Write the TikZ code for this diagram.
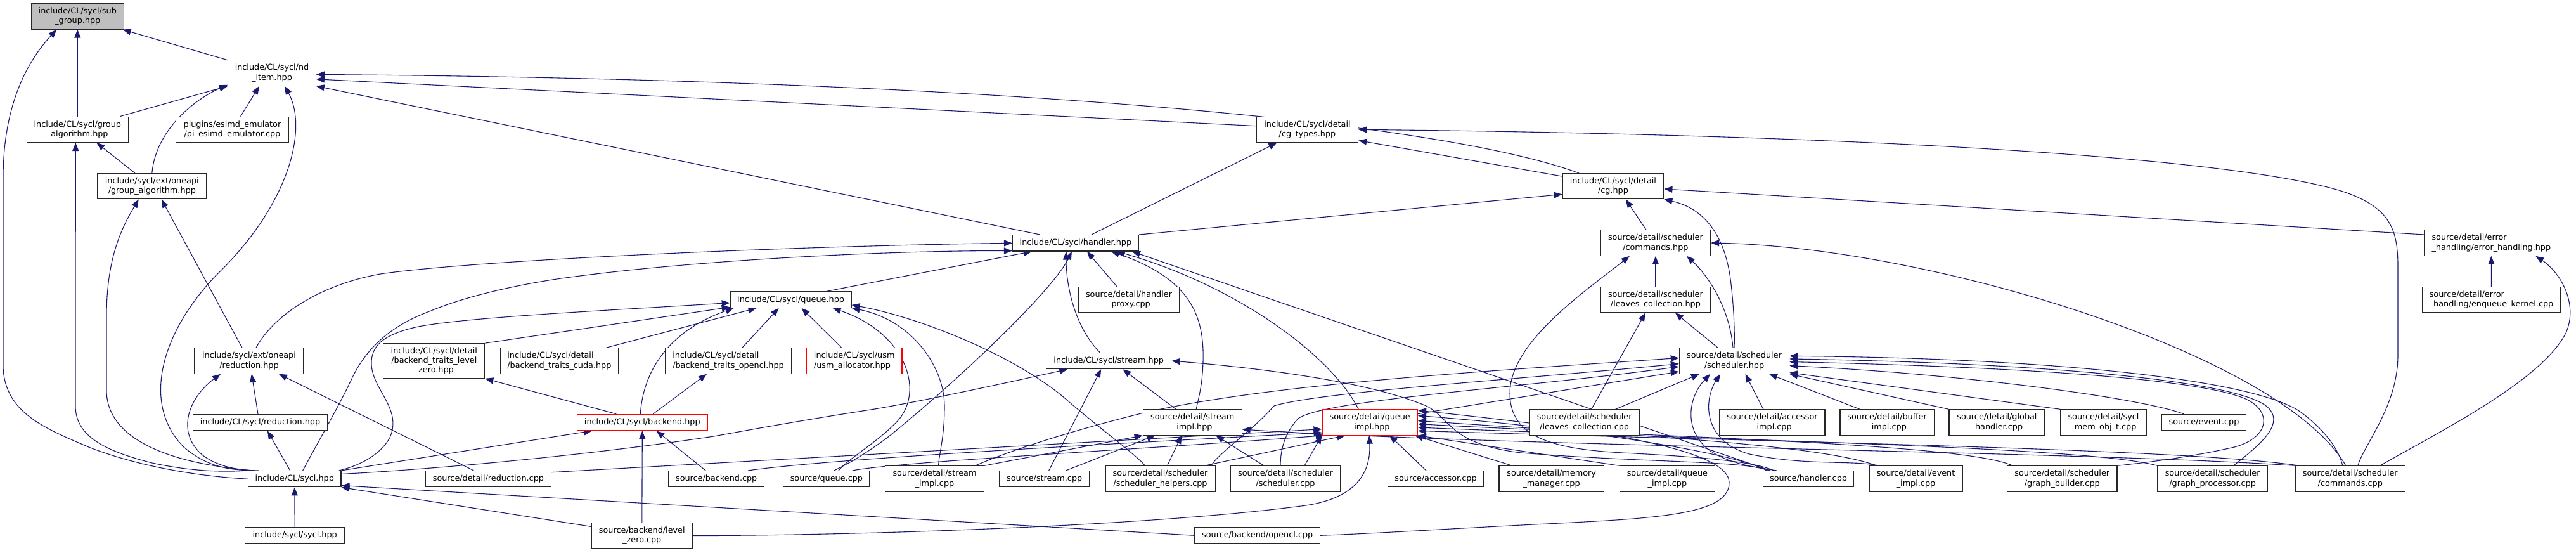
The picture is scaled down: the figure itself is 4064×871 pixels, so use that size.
\documentclass[tikz,border=0pt]{standalone}
\usepackage{fontspec}
\setmainfont{DejaVu Sans}
\usetikzlibrary{arrows.meta}
\definecolor{edgec}{HTML}{191970}
\definecolor{rootfill}{HTML}{BFBFBF}
\definecolor{truncred}{HTML}{FF0000}
\pgfdeclarelayer{edgelayer}
\pgfsetlayers{edgelayer,main}
\begin{document}
\begin{tikzpicture}[x=1pt,y=-1pt,
  box/.style={draw=black!85, line width=1.2pt, fill=white, inner sep=0pt, align=center,
              font=\fontsize{12.8pt}{15.3pt}\selectfont},
  lbox/.style={box, align=left},
  rbox/.style={box, draw=truncred},
  sz/.style 2 args={minimum width=#1pt, minimum height=#2pt},
  e/.style={draw=edgec, line width=1.1pt, {Triangle[length=13pt,width=10pt]}-}]
\useasboundingbox (0,0) rectangle (4064,871);

% ---------- nodes ----------
\node[box,sz={146.4}{40.3},fill=rootfill] (subgroup) at (122.3,25.9) {include/CL/sycl/sub\\\_group.hpp};
\node[box,sz={138.4}{40.3}] (ndi) at (429,115) {include/CL/sycl/nd\\\_item.hpp};
\node[box,sz={160}{40.3}] (galg) at (122.3,204.3) {include/CL/sycl/group\\\_algorithm.hpp};
\node[box,sz={178.6}{40.3}] (esimd) at (366.5,204.3) {plugins/esimd\_emulator\\/pi\_esimd\_emulator.cpp};
\node[box,sz={172.3}{40.3}] (egalg) at (239.8,293.7) {include/sycl/ext/oneapi\\/group\_algorithm.hpp};
\node[box,sz={160.4}{40.3}] (cgt) at (2062.5,204.3) {include/CL/sycl/detail\\/cg\_types.hpp};
\node[box,sz={159.8}{40.3}] (cg) at (2544.9,293.7) {include/CL/sycl/detail\\/cg.hpp};
\node[box,sz={198.7}{25.3}] (hdl) at (1696.9,383.3) {include/CL/sycl/handler.hpp};
\node[box,sz={173.2}{40.3}] (cmdh) at (2611.9,383) {source/detail/scheduler\\/commands.hpp};
\node[lbox,sz={210.6}{40.3}] (errh) at (3930.3,383) {source/detail/error\\\_handling/error\_handling.hpp};
\node[lbox,sz={218}{40.3}] (enqk) at (3930.5,472.5) {source/detail/error\\\_handling/enqueue\_kernel.cpp};
\node[box,sz={159}{40.3}] (hprox) at (1781,472.5) {source/detail/handler\\\_proxy.cpp};
\node[box,sz={173.2}{40.3}] (lvh) at (2611.9,472.5) {source/detail/scheduler\\/leaves\_collection.hpp};
\node[box,sz={190.7}{25.3}] (qh) at (1247.6,472.5) {include/CL/sycl/queue.hpp};
\node[box,sz={172}{40.3}] (ered) at (393,569) {include/sycl/ext/oneapi\\/reduction.hpp};
\node[box,sz={160}{54.6}] (btlz) at (684.8,569) {include/CL/sycl/detail\\/backend\_traits\_level\\\_zero.hpp};
\node[lbox,sz={186}{40.3}] (btcu) at (882.4,569) {include/CL/sycl/detail\\/backend\_traits\_cuda.hpp};
\node[lbox,sz={198.7}{40.3}] (btocl) at (1149,569) {include/CL/sycl/detail\\/backend\_traits\_opencl.hpp};
\node[rbox,align=left,sz={150.6}{40.3}] (usm) at (1347.7,569) {include/CL/sycl/usm\\/usm\_allocator.hpp};
\node[box,sz={197.3}{25.3}] (sth) at (1749.2,569) {include/CL/sycl/stream.hpp};
\node[box,sz={173.3}{40.3}] (schh) at (2736,569) {source/detail/scheduler\\/scheduler.hpp};
\node[box,sz={212}{25.3}] (clred) at (410.5,666) {include/CL/sycl/reduction.hpp};
\node[rbox,sz={205.8}{25.3}] (beh) at (1013.3,666) {include/CL/sycl/backend.hpp};
\node[box,sz={155.8}{40.3}] (stih) at (1881.2,666) {source/detail/stream\\\_impl.hpp};
\node[rbox,sz={150.4}{40.3}] (qih) at (2161.2,666) {source/detail/queue\\\_impl.hpp};
\node[box,sz={172.8}{40.3}] (lvc) at (2499.6,666) {source/detail/scheduler\\/leaves\_collection.cpp};
\node[box,sz={166}{40.3}] (acci) at (2795.9,666) {source/detail/accessor\\\_impl.cpp};
\node[box,sz={148.2}{40.3}] (bufi) at (2977.1,666) {source/detail/buffer\\\_impl.cpp};
\node[box,sz={151}{40.3}] (glh) at (3150.4,666) {source/detail/global\\\_handler.cpp};
\node[box,sz={136}{40.3}] (smo) at (3318.5,666) {source/detail/sycl\\\_mem\_obj\_t.cpp};
\node[box,sz={133}{25.3}] (evc) at (3477,666) {source/event.cpp};
\node[box,sz={146.4}{25.3}] (syh) at (464.7,755.2) {include/CL/sycl.hpp};
\node[box,sz={198.7}{25.3}] (redc) at (770.4,755.2) {source/detail/reduction.cpp};
\node[box,sz={150.4}{25.3}] (bec) at (1130.2,755.2) {source/backend.cpp};
\node[box,sz={136.2}{25.3}] (qc) at (1303.9,755.2) {source/queue.cpp};
\node[box,sz={155.8}{40.3}] (stic) at (1474.5,755) {source/detail/stream\\\_impl.cpp};
\node[box,sz={142.4}{25.3}] (stc) at (1647.7,755.2) {source/stream.cpp};
\node[box,sz={173.2}{40.3}] (shlp) at (1830.5,755) {source/detail/scheduler\\/scheduler\_helpers.cpp};
\node[box,sz={173.3}{40.3}] (schc) at (2028,755) {source/detail/scheduler\\/scheduler.cpp};
\node[box,sz={151.8}{25.3}] (accc) at (2265,755.2) {source/accessor.cpp};
\node[box,sz={165.2}{40.3}] (mmc) at (2447.6,755) {source/detail/memory\\\_manager.cpp};
\node[box,sz={150.4}{40.3}] (qic) at (2630.4,755) {source/detail/queue\\\_impl.cpp};
\node[box,sz={143.7}{25.3}] (hdc) at (2853,755.2) {source/handler.cpp};
\node[box,sz={147}{40.3}] (evi) at (3022.5,755) {source/detail/event\\\_impl.cpp};
\node[box,sz={173.7}{40.3}] (gbc) at (3253.2,755) {source/detail/scheduler\\/graph\_builder.cpp};
\node[box,sz={173.2}{40.3}] (gpc) at (3490.6,755) {source/detail/scheduler\\/graph\_processor.cpp};
\node[box,sz={173.2}{40.3}] (cmdc) at (3707.8,755) {source/detail/scheduler\\/commands.cpp};
\node[box,sz={157.2}{25.3}] (sysy) at (465.2,844.3) {include/sycl/sycl.hpp};
\node[box,sz={158.4}{40.3}] (lzc) at (1012.8,844.5) {source/backend/level\\\_zero.cpp};
\node[box,sz={197.4}{25.3}] (oclc) at (1983.7,844.3) {source/backend/opencl.cpp};

% ---------- edges ----------
\begin{pgfonlayer}{edgelayer}
% sub_group
\draw[e] (subgroup.south) -- (galg.north);
\draw[e] (subgroup) -- (ndi);
\draw[e] ([xshift=-33pt]subgroup.south) .. controls (40,100) and (5,170) .. (5,280) -- (5,575) .. controls (5,650) and (70,675) .. (140,705) .. controls (230,740) and (330,752) .. (syh.west);
% nd_item
\draw[e] (ndi.south west) -- ([xshift=67pt]galg.north);
\draw[e] (ndi.195) .. controls (300,160) and (245,210) .. (egalg.north);
\draw[e] ([xshift=-20pt]ndi.south) -- ([xshift=13pt]esimd.north);
\draw[e] ([xshift=20pt]ndi.south) .. controls (485,200) and (460,320) .. (340,435) .. controls (250,530) and (225,640) .. (290,705) .. controls (325,735) and (360,742) .. ([xshift=-62pt]syh.north);
\draw[e] (ndi.-8) -- (cgt.176);
\draw[e] (ndi.-2) .. controls (1500,125) and (2250,185) .. ([xshift=-54pt]cg.north);
\draw[e] (ndi.south east) -- ([xshift=-56pt]hdl.north);
% group_algorithm
\draw[e] ([xshift=-3pt]galg.south) -- (119,640) .. controls (119,690) and (170,712) .. (240,730) .. controls (310,745) and (360,744) .. ([xshift=-72pt]syh.north);
\draw[e] ([xshift=30pt]galg.south) -- ([xshift=-27pt]egalg.north);
% ext group_algorithm
\draw[e] ([xshift=-21pt]egalg.south) .. controls (185,370) and (168,420) .. (168,500) -- (168,615) .. controls (168,690) and (260,730) .. ([xshift=-66pt]syh.north);
\draw[e] ([xshift=15pt]egalg.south) -- ([xshift=-11pt]ered.north);
% ext reduction
\draw[e] ([xshift=-45pt]ered.south) .. controls (300,625) and (275,680) .. (320,718) .. controls (345,737) and (380,742) .. ([xshift=-56pt]syh.north);
\draw[e] ([xshift=4pt]ered.south) -- ([xshift=-3.5pt]clred.north);
\draw[e] ([xshift=47pt]ered.south) -- ([xshift=-23pt]redc.north);
\draw[e] ([xshift=11.4pt]clred.south) -- ([xshift=-7pt]syh.north);
% sycl.hpp
\draw[e] (syh.south) -- (sysy.north);
\draw[e] (syh.south east) -- (lzc.170);
\draw[e] (syh.-8) -- (oclc.west);
% cg_types
\draw[e] (cgt.-12) -- (cg.169);
\draw[e] ([xshift=-48pt]cgt.south) -- ([xshift=25pt]hdl.north);
\draw[e] (cgt.east) .. controls (2900,212) and (3500,245) .. (3690,300) .. controls (3770,325) and (3783,360) .. (3783,420) -- (3783,560) .. controls (3783,640) and (3730,700) .. ([xshift=12pt]cmdc.north);
% cg
\draw[e] (cg.189) -- (hdl.north east);
\draw[e] ([xshift=20pt]cg.south) -- ([xshift=-15pt]cmdh.north);
\draw[e] (cg.south east) .. controls (2695,330) and (2722,380) .. (2730,440) .. controls (2735,480) and (2737,520) .. (schh.north);
\draw[e] (cg.-3) -- (errh.173);
% handler
\draw[e] ([xshift=18pt]hdl.south) -- ([xshift=-19pt]hprox.north);
\draw[e] ([xshift=-69pt]hdl.south) -- ([xshift=57pt]qh.north);
\draw[e] (hdl.west) .. controls (1250,388) and (750,410) .. (600,432) .. controls (500,450) and (430,500) .. ([xshift=11pt]ered.north);
\draw[e] (hdl.187) .. controls (1400,395) and (1100,410) .. (900,437) .. controls (830,446) and (740,465) .. (680,490) .. controls (620,512) and (580,545) .. (555,597) .. controls (535,640) and (500,700) .. ([xshift=13pt]syh.north);
\draw[e] ([xshift=-15pt]hdl.south) .. controls (1682,450) and (1695,515) .. ([xshift=-14pt]sth.north);
\draw[e] ([xshift=-6pt]hdl.south) .. controls (1660,460) and (1500,610) .. (1400,690) .. controls (1370,712) and (1345,728) .. ([xshift=12pt]qc.north);
\draw[e] ([xshift=56pt]hdl.south) .. controls (1880,440) and (1900,500) .. (1898,570) .. controls (1897,610) and (1890,630) .. ([xshift=6pt]stih.north);
\draw[e] ([xshift=65pt]hdl.south) .. controls (1950,450) and (2100,560) .. ([xshift=-18pt]qih.north);
\draw[e] ([xshift=89pt]hdl.south) -- ([xshift=-60pt]hdc.north);
% commands.hpp
\draw[e] (cmdh.south) -- (lvh.north);
\draw[e] (cmdh.east) .. controls (3050,390) and (3600,560) .. ([xshift=-7pt]cmdc.north);
\draw[e] ([xshift=49pt]cmdh.south) .. controls (2690,430) and (2728,480) .. ([xshift=-2pt]schh.north);
\draw[e] ([xshift=-41pt]cmdh.south) .. controls (2500,460) and (2382,540) .. (2382,620) .. controls (2382,690) and (2450,708) .. (2560,714) .. controls (2680,720) and (2770,728) .. ([xshift=-55pt]hdc.north);
% error handling
\draw[e] (errh.south) -- (enqk.north);
\draw[e] ([xshift=70pt]errh.south) .. controls (4040,430) and (4068,480) .. (4048,525) .. controls (4010,600) and (3850,680) .. ([xshift=47pt]cmdc.north);
% leaves collection
\draw[e] ([xshift=-16pt]lvh.south) -- ([xshift=11pt]lvc.north);
\draw[e] ([xshift=31pt]lvh.south) -- ([xshift=-26pt]schh.north);
% queue.hpp
\draw[e] (qh.183) .. controls (950,490) and (740,500) .. (660,515) .. controls (600,528) and (585,548) .. (586,575) .. controls (588,615) and (635,645) .. (615,690) .. controls (600,718) and (565,735) .. ([xshift=70pt]syh.north);
\draw[e] (qh.187) -- (btlz.north east);
\draw[e] ([xshift=-54pt]qh.south) -- ([xshift=74pt]btcu.north);
\draw[e] ([xshift=-90pt]qh.south) .. controls (1060,520) and (1015,580) .. ([xshift=-3pt]beh.north);
\draw[e] ([xshift=-19pt]qh.south) -- ([xshift=22pt]btocl.north);
\draw[e] ([xshift=17pt]qh.south) -- ([xshift=-20pt]usm.north);
\draw[e] ([xshift=66pt]qh.south) .. controls (1430,525) and (1462,620) .. (1412,668) .. controls (1380,700) and (1340,722) .. ([xshift=19pt]qc.north);
\draw[e] (qh.south east) .. controls (1440,505) and (1490,580) .. (1490,640) .. controls (1490,690) and (1482,712) .. ([xshift=6pt]stic.north);
\draw[e] (qh.-5) .. controls (1450,500) and (1600,560) .. (1680,628) .. controls (1740,680) and (1790,715) .. ([xshift=-24pt]shlp.north);
% backend traits
\draw[e] (btlz.south east) -- ([xshift=-41pt]beh.north);
\draw[e] ([xshift=-34pt]btocl.south) -- ([xshift=17pt]beh.north);
% backend.hpp
\draw[e] ([xshift=22pt]beh.south) -- ([xshift=-17pt]bec.north);
\draw[e] (beh.south) -- (lzc.north);
\draw[e] ([xshift=-79pt]beh.south) -- (syh.north east);
% stream.hpp
\draw[e] ([xshift=-65pt]sth.south) .. controls (1550,612) and (1450,633) .. (1380,645) .. controls (1250,665) and (1160,682) .. (1126,688) .. controls (900,722) and (650,742) .. (syh.6);
\draw[e] ([xshift=-12pt]sth.south) -- ([xshift=7pt]stc.north);
\draw[e] ([xshift=22pt]sth.south) -- ([xshift=-26pt]stih.north);
\draw[e] (sth.east) .. controls (1960,578) and (2150,598) .. (2250,640) .. controls (2290,660) and (2285,700) .. (2400,714) .. controls (2600,730) and (2750,726) .. ([xshift=-62pt]hdc.north);
% stream_impl.hpp
\draw[e] (stih.south west) -- (stic.north east);
\draw[e] ([xshift=-59pt]stih.south) -- ([xshift=34pt]stc.north);
\draw[e] ([xshift=-17pt]stih.south) -- ([xshift=11pt]shlp.north);
\draw[e] ([xshift=37pt]stih.south) -- ([xshift=-34pt]schc.north);
\draw[e] (stih.-8) .. controls (2400,705) and (3300,712) .. (cmdc.north west);
% queue_impl.hpp
\draw[e] (qih.188) -- (redc.6);
\draw[e] (qih.192) .. controls (1650,705) and (1300,725) .. ([xshift=50pt]bec.north);
\draw[e] (qih.196) .. controls (1750,712) and (1420,728) .. ([xshift=41pt]qc.north);
\draw[e] (qih.south west) -- ([xshift=30pt]schc.north);
\draw[e] ([xshift=-39pt]qih.south) -- ([xshift=70pt]shlp.north);
\draw[e] ([xshift=-1pt]qih.south) .. controls (2163,745) and (2140,785) .. (2060,797) .. controls (1800,832) and (1300,845) .. (lzc.east);
\draw[e] ([xshift=31pt]qih.south) -- ([xshift=-15pt]accc.north);
\draw[e] ([xshift=71pt]qih.south) -- ([xshift=-62pt]mmc.north);
\draw[e] (qih.south east) -- (qic.north west);
\draw[e] (qih.8) .. controls (2500,676) and (2740,715) .. ([xshift=-66pt]hdc.north);
\draw[e] (qih.2) .. controls (2550,685) and (2870,700) .. ([xshift=-62pt]evi.north);
\draw[e] (qih.-2) .. controls (2650,690) and (3100,700) .. ([xshift=-78pt]gbc.north);
\draw[e] (qih.-6) .. controls (2750,695) and (3300,705) .. (gpc.north west);
\draw[e] (qih.-10) .. controls (2850,698) and (3450,708) .. ([xshift=-80pt]cmdc.north);
\draw[e] (qih.14) .. controls (2450,670) and (2725,700) .. (2728,760) .. controls (2730,815) and (2600,818) .. (2400,828) .. controls (2250,836) and (2150,842) .. (oclc.east);
% scheduler.hpp
\draw[e] (schh.191) -- (qih.10);
\draw[e] (schh.177) .. controls (2350,585) and (2000,605) .. (1800,652) .. controls (1680,682) and (1590,712) .. ([xshift=64pt]stic.north);
\draw[e] (schh.183) .. controls (2400,598) and (2080,618) .. (2010,640) .. controls (1975,680) and (1925,712) .. ([xshift=80pt]shlp.north);
\draw[e] (schh.186) .. controls (2400,612) and (2090,630) .. (2048,660) .. controls (2025,685) and (2020,712) .. ([xshift=-8pt]schc.north);
\draw[e] ([xshift=-55pt]schh.south) -- ([xshift=49pt]lvc.north);
\draw[e] ([xshift=-38pt]schh.south) .. controls (2660,630) and (2655,690) .. (2710,718) .. controls (2740,733) and (2770,737) .. ([xshift=-50pt]hdc.north);
\draw[e] ([xshift=-22pt]schh.south) .. controls (2688,630) and (2685,695) .. (2760,716) .. controls (2850,735) and (2920,725) .. ([xshift=-58pt]evi.north);
\draw[e] ([xshift=17.5pt]schh.south) -- ([xshift=-14pt]acci.north);
\draw[e] ([xshift=55pt]schh.south) -- ([xshift=-43pt]bufi.north);
\draw[e] (schh.south east) -- (glh.north west);
\draw[e] (schh.-12) -- (smo.north west);
\draw[e] (schh.-5) .. controls (3100,590) and (3380,628) .. ([xshift=-32pt]evc.north);
\draw[e] (schh.-1) .. controls (3150,578) and (3470,595) .. (3545,630) .. controls (3585,650) and (3580,690) .. (3525,705) .. controls (3450,722) and (3380,730) .. (gbc.north east);
\draw[e] (schh.2) .. controls (3200,572) and (3520,598) .. (3575,640) .. controls (3610,668) and (3560,705) .. ([xshift=33pt]gpc.north);
\draw[e] (schh.5) .. controls (3250,565) and (3560,600) .. (3630,650) .. controls (3670,680) and (3690,710) .. ([xshift=-12pt]cmdc.north);
\end{pgfonlayer}
\end{tikzpicture}
\end{document}
